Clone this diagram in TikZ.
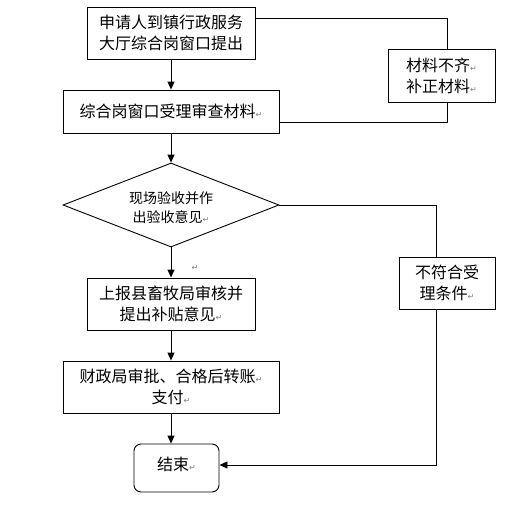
\documentclass[tikz,border=0pt]{standalone}
\usepackage{fontspec}
\newfontfamily\cjk{Noto Sans CJK SC}
\newfontfamily\markfont{DejaVu Sans}
\usetikzlibrary{shapes.geometric,arrows.meta}
\newcommand{\parmark}{{\markfont\fontsize{8}{8}\selectfont\color{gray}↵}}
\tikzset{
  box/.style={draw, line width=0.9pt, inner sep=0pt, align=center},
  decision/.style={draw, diamond, shape aspect=2.6, line width=0.9pt, inner sep=0pt, align=center,
    minimum width=216pt, minimum height=84pt, font=\cjk\fontsize{14}{19}\selectfont},
  endbox/.style={box, rounded corners=7pt},
  line/.style={line width=0.9pt},
  arrow/.style={line, -{Triangle[length=8pt,width=7pt]}}
}
\begin{document}
\begin{tikzpicture}[x=1pt, y=-1pt, every node/.style={font=\cjk\fontsize{16}{21}\selectfont}]
\useasboundingbox (0,0) rectangle (522,506);
\node (apply) [box, minimum width=168pt, minimum height=52pt] at (171,33) {申请人到镇行政服务\\大厅综合岗窗口提出};
\node (accept) [box, minimum width=216pt, minimum height=43pt] at (171,111.5) {综合岗窗口受理审查材料\parmark};
\node (fix) [box, minimum width=107pt, minimum height=53pt] at (441.5,75.5) {材料不齐\parmark\\补正材料\parmark};
\node (check) [decision] at (171,205) {};
\node (checktext) [font=\cjk\fontsize{14}{19}\selectfont, align=center] at (171,208) {现场验收并作\\出验收意见\parmark};
\node (reject) [box, minimum width=96pt, minimum height=52pt] at (447,283) {不符合受\\理条件\parmark};
\node (stray) at (195,268) {\parmark};
\node (report) [box, minimum width=168pt, minimum height=52pt] at (171,304) {上报县畜牧局审核并\\提出补贴意见\parmark};
\node (pay) [box, minimum width=216pt, minimum height=52pt] at (171,387) {财政局审批、合格后转账\parmark\\支付\parmark};
\node (end) [endbox, minimum width=85pt, minimum height=48pt] at (176.5,468) {};
\node (endtext) at (176.5,464) {结束\parmark};
\draw[arrow] (apply) -- (accept);
\draw[line] ([yshift=15pt]apply.east) -| ([xshift=5.5pt]fix.north);
\draw[line] ([xshift=5.5pt]fix.south) |- ([yshift=-10.5pt]accept.east);
\draw[arrow] (accept) -- (check);
\draw[arrow] (check) -- (report);
\draw[line] (check.east) -| ([xshift=-11pt]reject.north);
\draw[arrow] ([xshift=-11pt]reject.south) |- ([yshift=3pt]end.east);
\draw[arrow] (report) -- (pay);
\draw[arrow] (pay.south) -- ([xshift=-5.5pt]end.north);
\end{tikzpicture}
\end{document}
